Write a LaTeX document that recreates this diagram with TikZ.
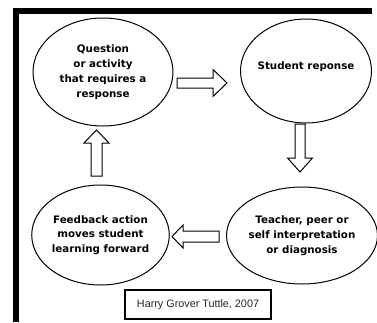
\documentclass[tikz,border=0pt]{standalone}
\usepackage{fontspec}
\setmainfont{DejaVu Sans}
\newfontfamily\capfont{Liberation Sans}
\usetikzlibrary{shapes.geometric,calc}
\tikzset{
  stage/.style={ellipse, draw=black, line width=1pt, inner sep=0pt, align=center,
    font=\bfseries\fontsize{10.3}{14.8}\selectfont},
  blockarrow/.style={draw=black, line width=1pt, fill=white, line join=miter},
  bar/.style={fill=black, draw=none},
}
% \barrow{start}{end}{half shaft}{half head}{head length}
\newcommand{\barrow}[5]{%
  \coordinate (hb) at ($(#2)!#5pt!(#1)$);
  \draw[blockarrow] ($(#1)!#3pt!90:(#2)$) -- ($(hb)!#3pt!90:(#2)$) -- ($(hb)!#4pt!90:(#2)$)
    -- (#2) -- ($(hb)!#4pt!-90:(#2)$) -- ($(hb)!#3pt!-90:(#2)$) -- ($(#1)!#3pt!-90:(#2)$) -- cycle;}
\begin{document}
\begin{tikzpicture}[x=1pt,y=-1pt]
\useasboundingbox (0,0) rectangle (377,322);
\fill[white] (0,0) rectangle (377,322);
% frame
\fill[bar] (13,8) rectangle (372,14);
\fill[bar] (13,8) rectangle (19,322);
% stages
\node[stage, minimum width=140pt, minimum height=108pt] (q) at (103,72) {Question\\or activity\\that requires a\\response};
\node[stage, minimum width=131pt, minimum height=104pt] (s) at (306,71) {};
\node[font=\bfseries\fontsize{10.3}{14.8}\selectfont] (st) at (306,67) {Student reponse};
\node[stage, minimum width=131pt, minimum height=97pt] (t) at (302,235.5) {Teacher, peer or\\self interpretation\\or diagnosis};
\node[stage, minimum width=131pt, minimum height=100pt] (f) at (100.5,235) {Feedback action\\moves student\\learning forward};
% arrow end points
\coordinate (a1s) at (177,83);
\coordinate (a1e) at (227,83);
\coordinate (a2s) at (300,124);
\coordinate (a2e) at (300,172);
\coordinate (a3s) at (219,236.5);
\coordinate (a3e) at (172,236.5);
\coordinate (a4s) at (96.5,176);
\coordinate (a4e) at (96.5,130);
\barrow{a1s}{a1e}{5}{13.5}{14}
\barrow{a2s}{a2e}{5}{12.5}{14}
\barrow{a3s}{a3e}{5.5}{11.5}{11}
\barrow{a4s}{a4e}{5.5}{12.5}{13}
% caption
\node[draw=black, line width=1.2pt, minimum width=146pt, minimum height=29pt, inner sep=0pt,
  font=\capfont\fontsize{10.8}{12}\selectfont, text=black!85] (cap) at (198,304.5) {Harry Grover Tuttle, 2007};
\end{tikzpicture}
\end{document}
